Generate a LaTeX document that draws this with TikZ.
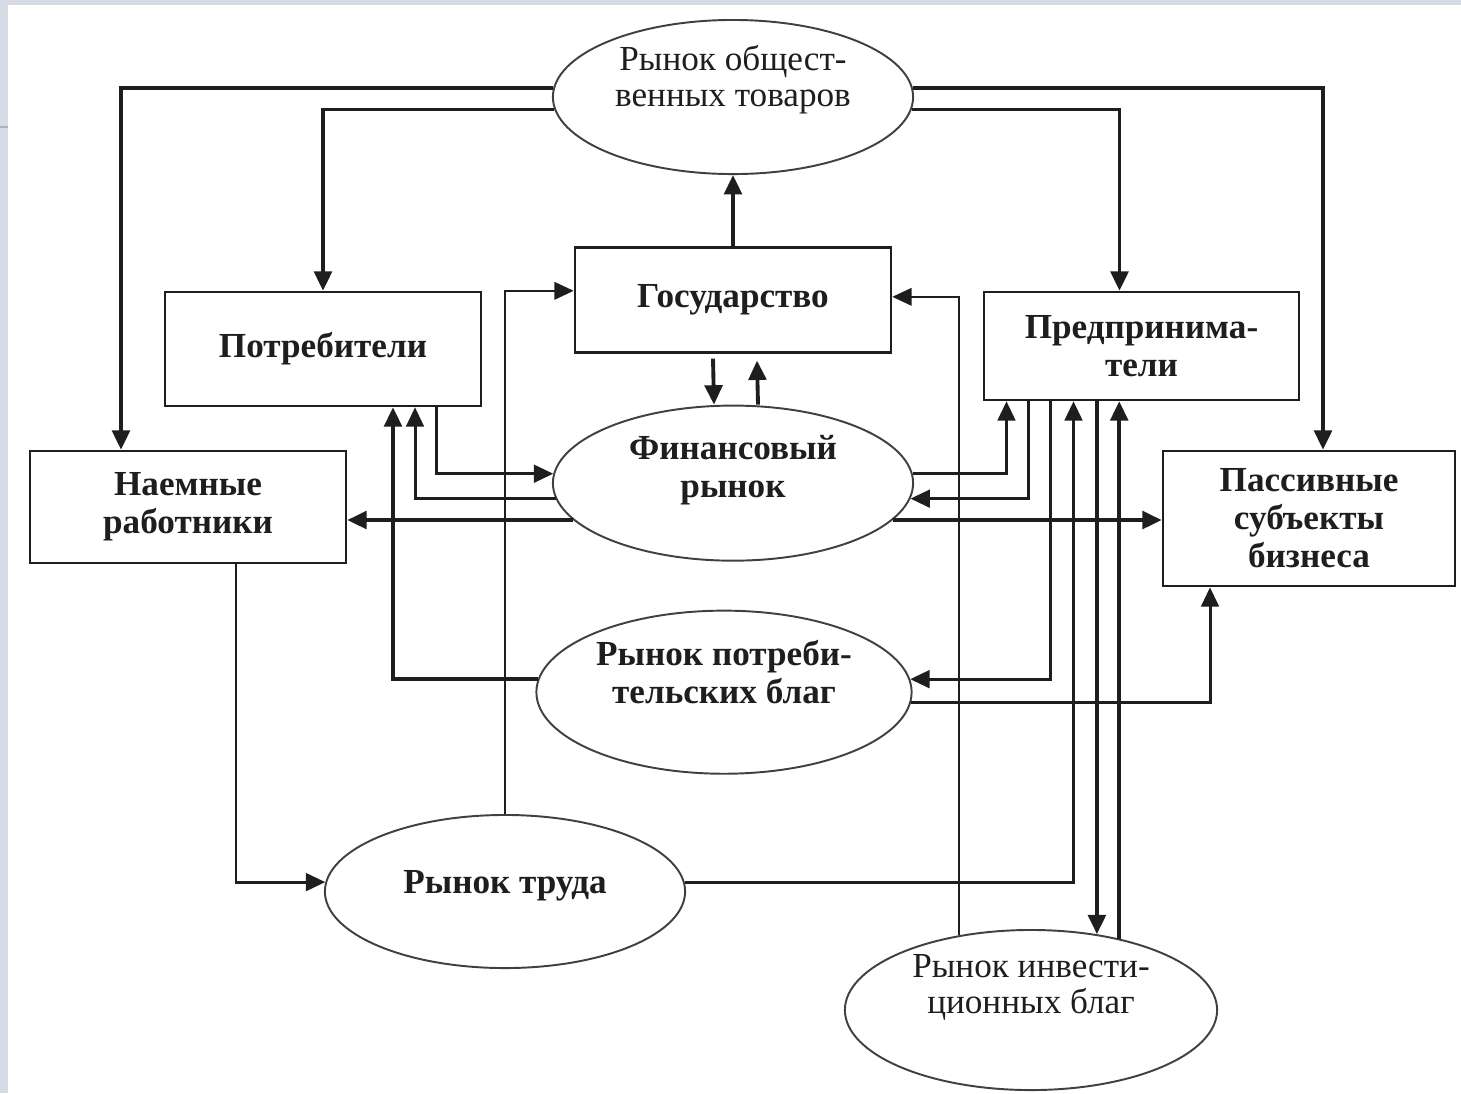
\documentclass[tikz,border=0pt]{standalone}
\usepackage{fontspec}
\setmainfont{Liberation Serif}
\usetikzlibrary{arrows.meta,shapes.geometric,calc,positioning}
\definecolor{slidebg}{HTML}{D6DBE5}
\definecolor{ink}{HTML}{1E1E1E}
\tikzset{
  box/.style={draw=ink,line width=0.7pt,minimum width=3.16cm,minimum height=1.1cm,
    align=center,text=ink,font=\fontsize{10}{10.8}\selectfont\bfseries},
  mkt/.style={draw=black!75,line width=0.55pt,ellipse,inner sep=0pt},
  mktlbl/.style={align=center,text=ink,font=\fontsize{10}{10.6}\selectfont\bfseries},
  flow/.style={draw=ink,line width=1.1pt,-{Triangle[length=5.5pt,width=5pt]}},
  medflow/.style={flow,line width=0.85pt},
  thinflow/.style={flow,line width=0.55pt},
}
\begin{document}
\begin{tikzpicture}[x=0.01cm,y=-0.01cm]
  \useasboundingbox (0,0) rectangle (1461,1093);
  \fill[slidebg] (0,0) rectangle (1461,1093);
  \fill[white] (8,5) rectangle (1461,1093);
  \draw[black!30,line width=0.8pt] (0,127) -- (8,127);

  \node[mkt,minimum width=3.6cm,minimum height=1.54cm,
    label={[mktlbl,font=\fontsize{10}{10.2}\selectfont,yshift=0.17cm]center:Рынок общест-\\венных товаров}] (pub) at (733,97) {};
  \node[box,minimum height=1.05cm,below=0.71cm of pub] (gov) {Государство};
  \node[mkt,minimum width=3.6cm,minimum height=1.55cm,below=0.51cm of gov,
    label={[mktlbl,yshift=0.13cm]center:Финансовый\\рынок}] (fin) {};
  \node[mkt,minimum width=3.75cm,minimum height=1.63cm,below=0.48cm of fin,xshift=-0.09cm,
    label={[mktlbl,yshift=0.2cm]center:Рынок потреби-\\тельских благ}] (cg) {};
  \node[box,minimum height=1.14cm] (cons) at (323,349) {Потребители};
  \node[box,minimum width=3.15cm,minimum height=1.08cm] (ent) at (1141.5,346) {Предпринима-\\тели};
  \node[box,minimum height=1.12cm] (nw) at (188,507) {Наемные\\работники};
  \node[box,minimum width=2.92cm,minimum height=1.35cm] (pas) at (1309,518.5) {Пассивные\\субъекты\\бизнеса};
  \node[mkt,minimum width=3.6cm,minimum height=1.53cm,
    label={[mktlbl,yshift=0.06cm]center:Рынок труда}] (lab) at (505,891.5) {};
  \node[mkt,minimum width=3.72cm,minimum height=1.6cm,
    label={[mktlbl,font=\fontsize{10}{10.2}\selectfont,yshift=0.23cm]center:Рынок инвести-\\ционных благ}] (inv) at (1031,1010) {};

  \draw[flow] (pub.177) -| ($(nw.north)+(-67,0)$);
  \draw[flow] (pub.184) -| (cons.north);
  \draw[flow] (pub.3) -| ($(pas.north)+(14,0)$);
  \draw[flow] (pub.356) -| ($(ent.north)+(-22,0)$);
  \draw[flow] (gov.north) -- (gov.north |- pub.south);
  \draw[flow] ($(gov.south)+(-20,5)$) -- ($(fin.north)+(-19,0)$);
  \draw[flow] ($(fin.north)+(25,0)$) -- ($(gov.south)+(24,7)$);
  \draw[thinflow] (lab.north) |- ($(gov.west)+(0,-9)$);
  \draw[thinflow] (inv.134) |- ($(gov.east)+(0,-3)$);
  \draw[medflow] ($(cons.south)+(113,0)$) |- (fin.177);
  \draw[medflow] (fin.185) -| ($(cons.south)+(92,0)$);
  \draw[flow] (fin.193) -- (fin.193 -| nw.east);
  \draw[flow] (cg.176) -| ($(cons.south)+(70,0)$);
  \draw[medflow] ($(nw.south)+(48,0)$) |- (lab.177);
  \draw[medflow] (lab.3) -| ($(ent.south)+(-68,0)$);
  \draw[flow] (inv.49 |- ent.south) -- (inv.49);
  \draw[flow] (inv.39) -- (inv.39 |- ent.south);
  \draw[medflow] (fin.3) -| ($(ent.south)+(-135,0)$);
  \draw[medflow] ($(ent.south)+(-113,0)$) |- (fin.355);
  \draw[flow] (fin.347) -- (fin.347 -| pas.west);
  \draw[medflow] ($(ent.south)+(-91,0)$) |- (cg.4);
  \draw[medflow] (cg.357) -| ($(pas.south)+(-99,0)$);
\end{tikzpicture}
\end{document}
